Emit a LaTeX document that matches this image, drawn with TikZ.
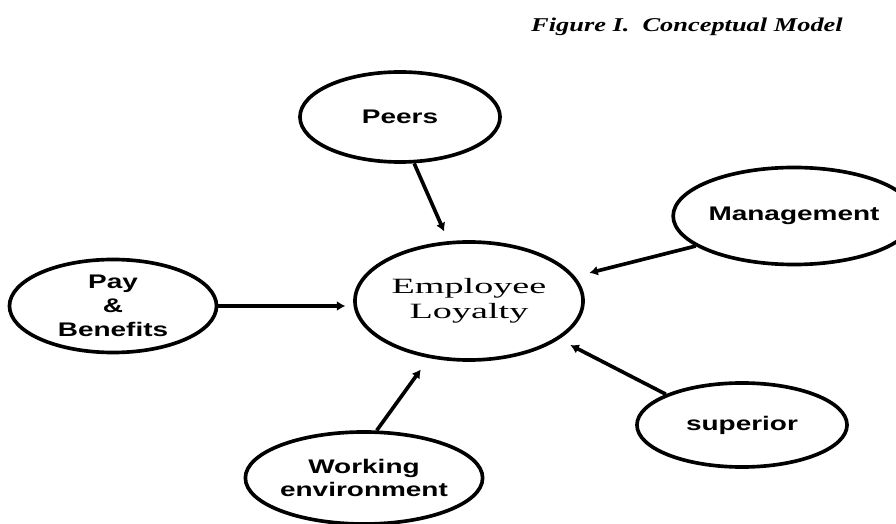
\documentclass[tikz,border=0pt]{standalone}
\usepackage{fontspec}
\setmainfont{Liberation Serif}
\newfontfamily\titlefont[FakeStretch=1.35]{Liberation Serif}
\newfontfamily\ovalfont[FakeStretch=1.42]{Liberation Sans}
\newfontfamily\corefont[FakeStretch=1.75]{Liberation Serif}
\usetikzlibrary{arrows.meta,shapes.geometric}

\begin{document}
\begin{tikzpicture}[x=0.025cm, y=-0.025cm,
    oval/.style={draw, ellipse, line width=2.6pt, inner sep=0pt, align=center,
      font=\ovalfont\bfseries\fontsize{14}{17}\selectfont},
    link/.style={line width=2.6pt, -{Latex[length=6pt,width=7pt]}}]
    \useasboundingbox (0,0) rectangle (896,524);

    % title
    \node (title) at (687,27) {\titlefont\bfseries\itshape\fontsize{13.9}{16}\selectfont Figure I.\ \ Conceptual Model};

    % centre
    \node[oval, minimum width=5.7cm, minimum height=2.95cm,
      font=\corefont\fontsize{15.5}{17.7}\selectfont] (loyalty) at (469,301) {Employee\\Loyalty};

    % factors
    \node[oval, minimum width=5cm, minimum height=2.25cm] (peers) at (400,117) {Peers};
    \node[oval, minimum width=5.175cm, minimum height=2.325cm] (pay) at (113,306) {Pay\\\&\\Benefits};
    \node[oval, minimum width=5.7cm, minimum height=2.3cm] (working) at (364,478) {Working\\environment};
    \node[oval, minimum width=5.05cm, minimum height=2.425cm] (management) at (794,216) {Management};
    \node[oval, minimum width=5.25cm, minimum height=2.1cm] (superior) at (742,425) {superior};

    % arrows into the centre
    \draw[link, shorten >=7.5pt] (peers.287) -- (loyalty.109);
    \draw[link, shorten >=5.5pt] (pay.east) -- (pay.east -| loyalty.west);
    \draw[link, shorten >=10pt] (working.75) -- (loyalty.235);
    \draw[link, shorten >=10.5pt] (management.197) -- (loyalty.13);
    \draw[link, shorten >=9pt] (superior.158) -- (loyalty.337);
\end{tikzpicture}
\end{document}
